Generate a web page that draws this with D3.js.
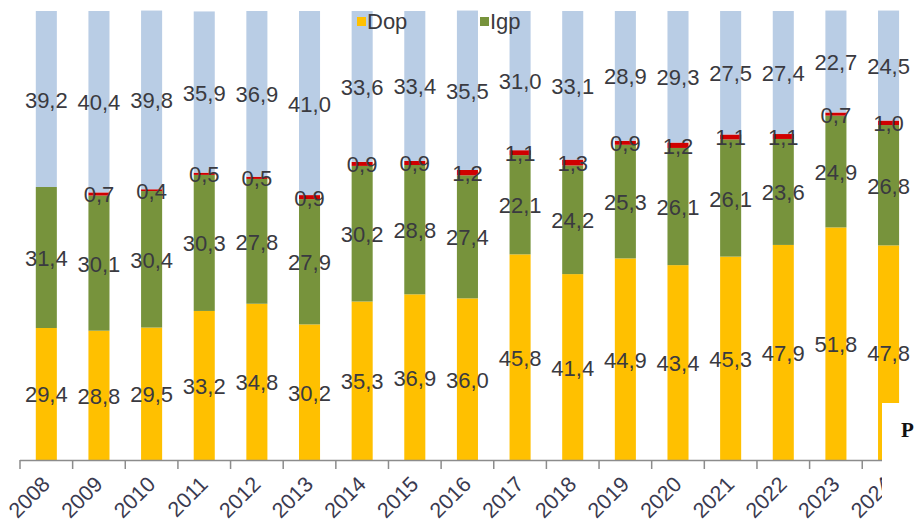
<!DOCTYPE html>
<html>
<head>
<meta charset="utf-8">
<script src="https://cdn.jsdelivr.net/npm/d3@7"></script>
<style>
  body { margin: 0; background: #fff; }
  text { font-family: "Liberation Sans", Arial, sans-serif; }
</style>
</head>
<body>
<div id="chart"></div>
<script>
const years = ["2008","2009","2010","2011","2012","2013","2014","2015","2016","2017","2018","2019","2020","2021","2022","2023","2024"];
const dop   = [29.4, 28.8, 29.5, 33.2, 34.8, 30.2, 35.3, 36.9, 36.0, 45.8, 41.4, 44.9, 43.4, 45.3, 47.9, 51.8, 47.8];
const igp   = [31.4, 30.1, 30.4, 30.3, 27.8, 27.9, 30.2, 28.8, 27.4, 22.1, 24.2, 25.3, 26.1, 26.1, 23.6, 24.9, 26.8];
const other = [0,    0.7,  0.4,  0.5,  0.5,  0.9,  0.9,  0.9,  1.2,  1.1,  1.3,  0.9,  1.2,  1.1,  1.1,  0.7,  1.0];
const rest  = [39.2, 40.4, 39.8, 35.9, 36.9, 41.0, 33.6, 33.4, 35.5, 31.0, 33.1, 28.9, 29.3, 27.5, 27.4, 22.7, 24.5];
const seriesNames = ["Dop", "Igp", "Altro", "Resto"];
const legendNames = ["Dop", "Igp"];

const width = 914, height = 523;
const colors = { Dop: "#FFC000", Igp: "#77933C", Altro: "#D00000", Resto: "#B9CDE5" };

const table = years.map((y, i) => ({ year: y, Dop: dop[i], Igp: igp[i], Altro: other[i], Resto: rest[i] }));

const svg = d3.select("#chart").append("svg")
  .attr("width", width)
  .attr("height", height);

const x = d3.scaleBand()
  .domain(years)
  .range([20, 20 + 17 * 52.64])
  .paddingInner(0.6)
  .paddingOuter(0.3);

const y = d3.scaleLinear()
  .domain([0, 100])
  .range([460, 11]);

const stack = d3.stack().keys(seriesNames);
const layers = stack(table);

// bars
svg.selectAll(".layer")
  .data(layers)
  .join("g")
  .attr("class", "layer")
  .attr("fill", d => colors[d.key])
  .selectAll("rect")
  .data(d => d)
  .join("rect")
  .attr("x", d => x(d.data.year))
  .attr("width", x.bandwidth())
  .attr("y", d => y(d[1]))
  .attr("height", d => y(d[0]) - y(d[1]));

// data labels
const fmt = v => v.toFixed(1).replace(".", ",");
layers.forEach(layer => {
  svg.append("g")
    .selectAll("text")
    .data(layer.filter(d => d[1] - d[0] > 0))
    .join("text")
    .attr("x", d => x(d.data.year) + x.bandwidth() / 2)
    .attr("y", d => (y(d[0]) + y(d[1])) / 2 + 8.5)
    .attr("text-anchor", "middle")
    .attr("font-size", "22px")
    .attr("fill", "#3a3a40")
    .text(d => fmt(d[1] - d[0]));
});

// x axis
const axis = svg.append("g");
axis.append("line")
  .attr("x1", x.range()[0])
  .attr("x2", x.range()[1])
  .attr("y1", 460.5)
  .attr("y2", 460.5)
  .attr("stroke", "#8c8c8c")
  .attr("stroke-width", 1.5);

axis.selectAll(".tick")
  .data(years)
  .join("line")
  .attr("class", "tick")
  .attr("x1", d => x(d) + x.bandwidth() / 2 - x.step() / 2)
  .attr("x2", d => x(d) + x.bandwidth() / 2 - x.step() / 2)
  .attr("y1", 460)
  .attr("y2", 469)
  .attr("stroke", "#8c8c8c")
  .attr("stroke-width", 1.5);

axis.selectAll(".ticklabel")
  .data(years)
  .join("text")
  .attr("class", "ticklabel")
  .attr("transform", d => `translate(${x(d) + x.bandwidth() / 2 + 5}, 485.5) rotate(-45)`)
  .attr("text-anchor", "end")
  .attr("font-size", "21.5px")
  .attr("fill", "#3a3a50")
  .text(d => d);

// legend
const legend = svg.append("g");
const legendX = [357, 480];
legendNames.forEach((name, i) => {
  legend.append("rect")
    .attr("x", legendX[i])
    .attr("y", 17)
    .attr("width", 9)
    .attr("height", 9)
    .attr("fill", colors[name]);
  legend.append("text")
    .attr("x", legendX[i] + 10)
    .attr("y", 28.5)
    .attr("font-size", "22px")
    .attr("fill", "#3a3a40")
    .text(name);
});

// cut-off corner box from the page the chart was taken from
svg.append("rect")
  .attr("x", 882)
  .attr("y", 403)
  .attr("width", width - 882)
  .attr("height", height - 403)
  .attr("fill", "#fff");

svg.append("text")
  .attr("x", 901)
  .attr("y", 437)
  .style("font-family", "'Liberation Serif', serif")
  .style("font-weight", "bold")
  .attr("font-size", "21px")
  .attr("fill", "#111")
  .text("P");
</script>
</body>
</html>
